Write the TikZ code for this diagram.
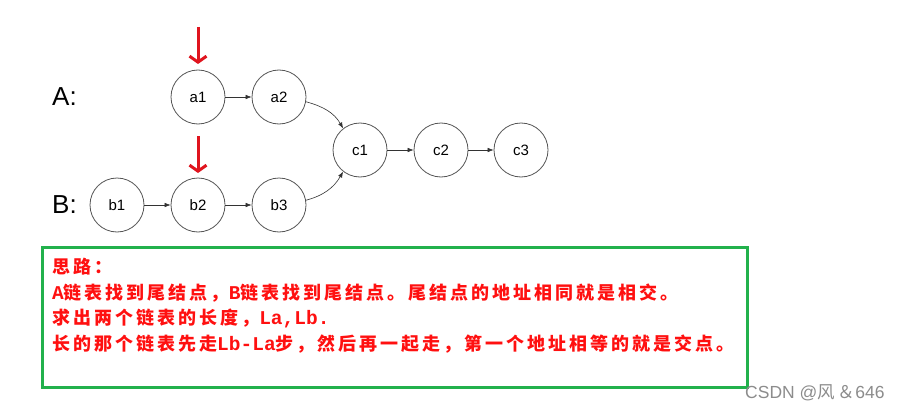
\documentclass[tikz,border=0pt]{standalone}
\usepackage{fontspec}
\setmainfont{Liberation Sans}
\newfontfamily\cjk[LetterSpace=16.7]{Noto Sans CJK SC}
\newfontfamily\cjkwm{Noto Sans CJK SC}
\newfontfamily\lat{Liberation Mono}
\usetikzlibrary{arrows.meta}
\definecolor{nodegray}{HTML}{555555}
\definecolor{boxgreen}{HTML}{22B14C}
\definecolor{txtred}{HTML}{FF1010}
\definecolor{arrred}{HTML}{E0141E}
\newcommand{\LT}[1]{{\lat\bfseries\fontsize{19.5}{19.5}\selectfont #1}}
\tikzset{
  lnode/.style={circle,draw=nodegray,line width=0.8pt,minimum size=54pt,inner sep=0pt,font=\fontsize{15}{15}\selectfont},
  link/.style={draw=black!80,line width=0.6pt,-{Latex[length=6pt,width=4.5pt]}},
  redarrow/.style={draw=arrred,line width=3pt,-{Straight Barb[length=6pt,width=17pt]}},
  rowlabel/.style={font=\fontsize{26}{26}\selectfont,anchor=west,inner sep=0pt},
  notetext/.style={anchor=base west,inner sep=0pt,text=txtred,font=\cjk\bfseries\fontsize{18}{18}\selectfont}
}
\begin{document}
\begin{tikzpicture}[x=1pt,y=-1pt]
\useasboundingbox[fill=white] (0,0) rectangle (907,412);
% labels
\node[rowlabel] (labA) at (52,97) {A:};
\node[rowlabel] (labB) at (52,205) {B:};
% nodes
\node[lnode] (a1) at (198,97) {a1};
\node[lnode] (a2) at (279,97) {a2};
\node[lnode] (b1) at (117,205) {b1};
\node[lnode] (b2) at (198,205) {b2};
\node[lnode] (b3) at (279,205) {b3};
\node[lnode] (c1) at (360,150) {c1};
\node[lnode] (c2) at (441,150) {c2};
\node[lnode] (c3) at (521,150) {c3};
% links
\draw[link] (a1) -- (a2);
\draw[link] (b1) -- (b2);
\draw[link] (b2) -- (b3);
\draw[link] (c1) -- (c2);
\draw[link] (c2) -- (c3);
\draw[link] (a2.-10) to[out=-15,in=120] (c1.128);
\draw[link] (b3.10) to[out=15,in=-120] (c1.-128);
% red pointers
\coordinate (p1) at (198,27);
\coordinate (p1e) at (198,64);
\coordinate (p2) at (198,136);
\coordinate (p2e) at (198,173);
\draw[redarrow] (p1) -- (p1e);
\draw[redarrow] (p2) -- (p2e);
% note box
\draw[boxgreen,line width=3pt] (42,247) rectangle (747,387);
\node[notetext] (t1) at (52,273.5) {思路：};
\node[notetext] (t2) at (52,299.5) {\LT{A}链表找到尾结点，\LT{B}链表找到尾结点。尾结点的地址相同就是相交。};
\node[notetext] (t3) at (52,324.5) {求出两个链表的长度，\LT{La,Lb.}};
\node[notetext] (t4) at (52,350) {长的那个链表先走\LT{Lb-La}步，然后再一起走，第一个地址相等的就是交点。};
% watermark
\node[anchor=west,inner sep=0pt,text=black!45,font=\fontsize{17.5}{17.5}\selectfont] (wm) at (745,393) {CSDN @{\cjkwm 风}\,{\cjkwm ＆}646};
\end{tikzpicture}
\end{document}
